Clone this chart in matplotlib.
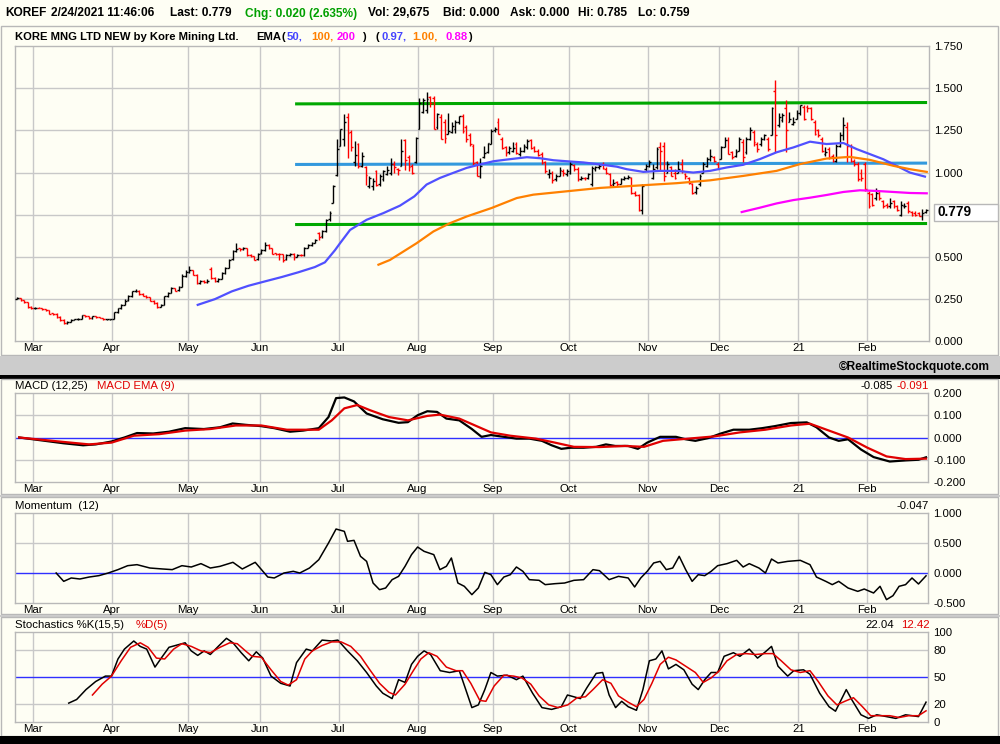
import numpy as np
import pandas as pd
import matplotlib
matplotlib.use("Agg")
import matplotlib.pyplot as plt
from matplotlib.patches import Rectangle

# ---------------- trading calendar ----------------
holidays = ["2020-04-10", "2020-05-25", "2020-07-03", "2020-09-07", "2020-11-26",
            "2020-12-25", "2021-01-01", "2021-01-18", "2021-02-15"]
dates = pd.bdate_range("2020-02-24", "2021-02-24")
dates = dates[~dates.isin(pd.to_datetime(holidays))]

# ---------------- daily OHLC ----------------
closes = [
    0.256, 0.242, 0.230, 0.206, 0.196,
    0.198, 0.198, 0.190, 0.183, 0.163, 0.163, 0.143, 0.127, 0.107, 0.117, 0.127, 0.131, 0.135, 0.153, 0.147, 0.137, 0.147, 0.143, 0.139, 0.131, 0.131, 0.131,
    0.171, 0.196, 0.216, 0.240, 0.266, 0.296, 0.300, 0.280, 0.270, 0.262, 0.240, 0.226, 0.206, 0.215, 0.266, 0.286, 0.316, 0.300, 0.320, 0.385, 0.410,
    0.425, 0.395, 0.345, 0.360, 0.350, 0.360, 0.375, 0.355, 0.370, 0.403, 0.435, 0.484, 0.534, 0.548, 0.545, 0.553, 0.514, 0.504, 0.484, 0.520,
    0.540, 0.573, 0.550, 0.520, 0.518, 0.515, 0.484, 0.510, 0.520, 0.500, 0.510, 0.510, 0.553, 0.569, 0.583, 0.603, 0.620, 0.653, 0.720, 0.762, 0.920, 1.137,
    1.256, 1.300, 1.236, 1.150, 1.107, 1.038, 1.097, 0.988, 0.968, 0.948, 0.929, 0.978, 1.008, 1.018, 1.048, 1.034, 1.014, 1.127, 1.077, 1.034, 1.000, 1.206,
    1.415, 1.430, 1.435, 1.415, 1.256, 1.345, 1.196, 1.206, 1.246, 1.276, 1.300, 1.335, 1.246, 1.196, 1.167, 1.058, 0.978, 1.038, 1.117, 1.177, 1.246,
    1.260, 1.226, 1.147, 1.117, 1.147, 1.147, 1.117, 1.130, 1.160, 1.186, 1.147, 1.130, 1.107, 1.058, 1.008, 1.000, 0.958, 0.978, 1.018, 0.998, 1.008,
    1.048, 1.020, 0.960, 0.968, 0.968, 0.990, 1.028, 1.030, 1.040, 1.028, 0.998, 0.929, 0.940, 0.930, 0.960, 0.970, 0.975, 0.880, 0.865, 0.780, 0.920, 1.040,
    1.060, 1.020, 1.140, 1.130, 0.980, 1.050, 0.980, 0.970, 1.020, 1.010, 0.980, 0.940, 0.880, 0.910, 0.980, 1.050, 1.080, 1.100, 1.070, 1.020,
    1.150, 1.190, 1.110, 1.090, 1.120, 1.200, 1.090, 1.200, 1.250, 1.180, 1.140, 1.200, 1.220, 1.140, 1.380, 1.220, 1.330, 1.340, 1.250, 1.320, 1.300, 1.350,
    1.400, 1.320, 1.380, 1.320, 1.230, 1.220, 1.130, 1.120, 1.090, 1.070, 1.160, 1.220, 1.280, 1.160, 1.070, 1.050, 0.960, 0.970, 0.900,
    0.800, 0.810, 0.880, 0.850, 0.800, 0.800, 0.820, 0.800, 0.780, 0.810, 0.800, 0.770, 0.750, 0.750, 0.745, 0.760, 0.779,
]
opens = [
    0.250, 0.256, 0.242, 0.230, 0.206,
    0.196, 0.200, 0.198, 0.190, 0.183, 0.165, 0.163, 0.143, 0.127, 0.107, 0.117, 0.127, 0.131, 0.135, 0.153, 0.147, 0.137, 0.147, 0.143, 0.139, 0.131, 0.131,
    0.135, 0.172, 0.196, 0.218, 0.242, 0.268, 0.296, 0.300, 0.282, 0.270, 0.262, 0.240, 0.226, 0.206, 0.216, 0.268, 0.288, 0.316, 0.302, 0.322, 0.388,
    0.410, 0.420, 0.395, 0.345, 0.360, 0.350, 0.430, 0.375, 0.355, 0.372, 0.405, 0.437, 0.486, 0.536, 0.550, 0.545, 0.553, 0.514, 0.504, 0.486,
    0.522, 0.542, 0.573, 0.550, 0.522, 0.518, 0.515, 0.486, 0.510, 0.520, 0.502, 0.512, 0.512, 0.555, 0.571, 0.585, 0.640, 0.622, 0.655, 0.722, 0.820, 0.985,
    1.160, 1.200, 1.330, 1.240, 1.060, 1.170, 1.040, 1.030, 0.920, 0.920, 1.010, 0.930, 0.960, 0.990, 1.000, 1.050, 1.020, 1.040, 1.190, 1.090, 1.040, 1.060,
    1.260, 1.360, 1.370, 1.450, 1.440, 1.270, 1.330, 1.300, 1.230, 1.240, 1.260, 1.300, 1.335, 1.270, 1.220, 1.160, 1.060, 0.980, 1.090, 1.120, 1.170,
    1.250, 1.300, 1.200, 1.150, 1.120, 1.130, 1.170, 1.110, 1.130, 1.150, 1.190, 1.150, 1.130, 1.110, 1.060, 0.990, 1.000, 0.960, 0.980, 1.010, 0.990,
    1.000, 1.045, 1.020, 0.960, 0.970, 0.970, 0.930, 1.020, 1.030, 1.050, 1.020, 0.990, 0.930, 0.945, 0.935, 0.960, 0.965, 0.970, 0.880, 0.865, 0.780, 1.020,
    1.040, 0.970, 1.030, 1.150, 1.160, 1.000, 1.030, 1.000, 1.000, 1.050, 0.990, 0.970, 0.930, 0.885, 0.930, 1.000, 1.040, 1.080, 1.090, 1.050,
    1.080, 1.150, 1.190, 1.120, 1.100, 1.130, 1.180, 1.120, 1.200, 1.240, 1.170, 1.170, 1.200, 1.200, 1.220, 1.486, 1.280, 1.310, 1.380, 1.300, 1.290, 1.320,
    1.350, 1.390, 1.390, 1.380, 1.300, 1.250, 1.200, 1.110, 1.140, 1.100, 1.070, 1.160, 1.220, 1.270, 1.160, 1.070, 1.050, 1.000, 1.050,
    0.880, 0.870, 0.850, 0.880, 0.830, 0.810, 0.800, 0.830, 0.800, 0.750, 0.800, 0.820, 0.765, 0.760, 0.760, 0.740, 0.765,
]
highs = [
    0.262, 0.258, 0.244, 0.232, 0.208,
    0.204, 0.202, 0.200, 0.192, 0.185, 0.168, 0.165, 0.148, 0.130, 0.120, 0.130, 0.135, 0.138, 0.156, 0.155, 0.149, 0.150, 0.149, 0.145, 0.140, 0.135, 0.133,
    0.173, 0.200, 0.222, 0.248, 0.272, 0.300, 0.310, 0.302, 0.285, 0.275, 0.265, 0.245, 0.230, 0.220, 0.270, 0.290, 0.320, 0.318, 0.325, 0.400, 0.425,
    0.445, 0.425, 0.398, 0.365, 0.362, 0.368, 0.440, 0.380, 0.375, 0.410, 0.440, 0.490, 0.540, 0.580, 0.555, 0.560, 0.555, 0.518, 0.508, 0.525,
    0.545, 0.590, 0.575, 0.552, 0.525, 0.522, 0.518, 0.515, 0.525, 0.522, 0.515, 0.515, 0.560, 0.575, 0.590, 0.608, 0.645, 0.660, 0.725, 0.770, 0.925, 1.200,
    1.260, 1.345, 1.355, 1.250, 1.187, 1.177, 1.120, 1.038, 0.978, 0.968, 1.018, 0.990, 1.018, 1.038, 1.087, 1.067, 1.028, 1.196, 1.200, 1.107, 1.050, 1.210,
    1.444, 1.444, 1.478, 1.454, 1.454, 1.355, 1.345, 1.315, 1.355, 1.300, 1.310, 1.335, 1.345, 1.280, 1.236, 1.167, 1.068, 1.087, 1.157, 1.177, 1.256,
    1.270, 1.325, 1.210, 1.160, 1.160, 1.180, 1.180, 1.150, 1.170, 1.200, 1.200, 1.160, 1.140, 1.120, 1.070, 1.020, 1.010, 0.990, 1.030, 1.020, 1.020,
    1.068, 1.050, 1.030, 0.980, 0.975, 1.000, 1.040, 1.040, 1.050, 1.060, 1.030, 1.000, 0.960, 0.950, 0.970, 0.980, 0.985, 0.975, 0.890, 0.870, 0.930, 1.050,
    1.075, 1.050, 1.150, 1.180, 1.180, 1.070, 1.040, 1.020, 1.070, 1.080, 1.000, 0.975, 0.940, 0.920, 0.990, 1.060, 1.090, 1.140, 1.100, 1.060,
    1.160, 1.210, 1.210, 1.130, 1.140, 1.210, 1.200, 1.210, 1.270, 1.250, 1.180, 1.210, 1.230, 1.210, 1.390, 1.546, 1.350, 1.350, 1.430, 1.360, 1.330, 1.370,
    1.400, 1.400, 1.400, 1.390, 1.310, 1.260, 1.210, 1.150, 1.150, 1.110, 1.170, 1.240, 1.330, 1.300, 1.170, 1.080, 1.060, 1.020, 1.060,
    0.890, 0.880, 0.910, 0.890, 0.840, 0.820, 0.850, 0.840, 0.810, 0.830, 0.820, 0.830, 0.770, 0.770, 0.765, 0.785, 0.785,
]
lows = [
    0.248, 0.238, 0.226, 0.200, 0.194,
    0.194, 0.195, 0.188, 0.180, 0.160, 0.158, 0.140, 0.122, 0.100, 0.105, 0.115, 0.125, 0.128, 0.133, 0.143, 0.134, 0.135, 0.141, 0.137, 0.129, 0.128, 0.129,
    0.133, 0.168, 0.192, 0.214, 0.240, 0.264, 0.292, 0.276, 0.266, 0.258, 0.236, 0.222, 0.196, 0.204, 0.214, 0.262, 0.284, 0.296, 0.298, 0.320, 0.380,
    0.405, 0.390, 0.340, 0.340, 0.345, 0.345, 0.370, 0.350, 0.350, 0.368, 0.400, 0.432, 0.480, 0.530, 0.538, 0.540, 0.508, 0.500, 0.480, 0.482,
    0.518, 0.538, 0.545, 0.515, 0.512, 0.480, 0.470, 0.482, 0.505, 0.480, 0.498, 0.505, 0.508, 0.550, 0.565, 0.580, 0.598, 0.615, 0.650, 0.715, 0.820, 0.980,
    1.157, 1.157, 1.087, 1.130, 1.038, 1.028, 1.030, 0.929, 0.909, 0.899, 0.919, 0.920, 0.948, 0.988, 0.988, 0.998, 0.988, 1.038, 1.018, 1.008, 0.990, 1.058,
    1.256, 1.355, 1.355, 1.390, 1.256, 1.256, 1.196, 1.177, 1.226, 1.236, 1.236, 1.290, 1.236, 1.180, 1.157, 1.038, 0.978, 0.968, 1.087, 1.117, 1.167,
    1.240, 1.226, 1.140, 1.100, 1.110, 1.120, 1.110, 1.100, 1.120, 1.140, 1.140, 1.120, 1.100, 1.050, 1.000, 0.970, 0.940, 0.950, 0.980, 0.980, 0.980,
    0.990, 1.010, 0.950, 0.955, 0.955, 0.960, 0.920, 1.010, 1.020, 1.020, 0.990, 0.920, 0.920, 0.920, 0.930, 0.955, 0.960, 0.875, 0.860, 0.772, 0.752, 1.010,
    1.030, 0.960, 1.020, 1.010, 0.950, 1.000, 0.980, 0.960, 1.000, 1.000, 0.960, 0.930, 0.875, 0.870, 0.920, 1.000, 1.030, 1.070, 1.060, 1.020,
    1.080, 1.150, 1.110, 1.080, 1.090, 1.130, 1.060, 1.110, 1.190, 1.160, 1.120, 1.160, 1.190, 1.130, 1.220, 1.120, 1.270, 1.300, 1.120, 1.300, 1.280, 1.320,
    1.340, 1.310, 1.360, 1.310, 1.220, 1.210, 1.120, 1.100, 1.080, 1.060, 1.060, 1.150, 1.190, 1.060, 1.060, 1.040, 0.950, 0.950, 0.890,
    0.790, 0.800, 0.840, 0.840, 0.790, 0.790, 0.790, 0.790, 0.770, 0.740, 0.790, 0.760, 0.745, 0.745, 0.740, 0.720, 0.759,
]

# ---------------- moving averages (trading-day index) ----------------
ema50_x = [50.3, 55.1, 59.8, 64.4, 69.0, 73.7, 78.3, 82.9, 85.7, 88.5, 89.9, 92.7, 97.3, 102.0, 106.6, 110.6,
           114.0, 117.7, 121.4, 125.2, 128.9, 132.6, 136.3, 141.9, 145.6, 149.3, 153.0, 157.6, 162.3, 166.9,
           169.7, 174.3, 179.0, 183.6, 188.2, 192.9, 197.5, 202.1, 206.8, 211.4, 216.1, 220.7, 225.3, 230.0,
           233.7, 237.4, 241.1, 244.8, 248.5, 252.7]
ema50_y = [0.216, 0.250, 0.296, 0.329, 0.355, 0.381, 0.409, 0.440, 0.468, 0.540, 0.581, 0.660, 0.720, 0.760,
           0.804, 0.859, 0.929, 0.968, 0.998, 1.028, 1.048, 1.067, 1.077, 1.091, 1.085, 1.073, 1.067, 1.060,
           1.048, 1.035, 1.020, 1.004, 1.010, 1.010, 1.000, 1.010, 1.030, 1.046, 1.080, 1.120, 1.149, 1.183,
           1.169, 1.175, 1.139, 1.109, 1.079, 1.040, 1.000, 0.976]
ema100_x = [100.6, 103.8, 111.2, 115.9, 120.5, 125.2, 132.1, 139.1, 143.7, 153.0, 162.3, 166.9, 174.3,
            183.6, 192.9, 202.1, 211.4, 217.9, 225.3, 231.8, 237.4, 243.9, 248.5, 253.2]
ema100_y = [0.454, 0.482, 0.581, 0.651, 0.700, 0.740, 0.790, 0.849, 0.869, 0.889, 0.909, 0.915, 0.925,
            0.937, 0.954, 0.980, 1.010, 1.050, 1.083, 1.093, 1.075, 1.040, 1.020, 1.004]
ema200_x = [201.7, 206.8, 211.4, 216.1, 220.7, 225.3, 230.0, 234.6, 239.2, 243.9, 248.5, 253.2]
ema200_y = [0.766, 0.792, 0.817, 0.837, 0.851, 0.867, 0.885, 0.895, 0.891, 0.885, 0.879, 0.877]

# trend lines: (start index, end index, start value, end value)
resist_line = (77.4, 253.3, 1.407, 1.415)
mid_line = (77.4, 253.3, 1.048, 1.056)
support_line = (77.4, 253.3, 0.692, 0.698)

# ---------------- MACD ----------------
macd_x = [0.6, 5.9, 13.0, 18.4, 21.9, 26.3, 29.9, 33.4, 37.9, 42.3, 46.8, 52.0, 56.5, 60.0, 63.6, 68.0,
          71.6, 76.0, 79.6, 84.0, 86.7, 88.8, 91.1, 93.8, 97.3, 101.8, 106.2, 108.8, 111.5, 114.2, 116.9,
          119.5, 123.1, 126.6, 129.3, 131.9, 135.5, 139.0, 142.6, 146.1, 148.8, 151.5, 154.1, 157.7, 161.2,
          163.9, 166.5, 170.1, 172.8, 175.4, 179.0, 183.4, 186.1, 188.8, 192.3, 195.9, 199.4, 203.8, 207.4,
          210.9, 215.4, 219.8, 222.5, 226.0, 228.7, 231.3, 234.9, 238.4, 242.9, 247.3, 250.9, 253.0]
macd_y = [0.0, -0.011, -0.026, -0.035, -0.031, -0.018, 0.0, 0.020, 0.018, 0.026, 0.042, 0.038, 0.046, 0.063,
          0.057, 0.051, 0.042, 0.026, 0.031, 0.042, 0.092, 0.177, 0.180, 0.162, 0.108, 0.082, 0.066, 0.069,
          0.100, 0.118, 0.115, 0.085, 0.077, 0.038, 0.003, 0.011, 0.003, -0.005, -0.005, -0.015, -0.035,
          -0.051, -0.046, -0.046, -0.042, -0.031, -0.038, -0.038, -0.051, -0.023, 0.003, 0.003, -0.008,
          -0.015, -0.003, 0.018, 0.035, 0.035, 0.042, 0.051, 0.065, 0.068, 0.046, 0.0, -0.015, -0.008,
          -0.054, -0.088, -0.108, -0.103, -0.100, -0.089]
signal_x = [0.6, 13.0, 20.1, 26.3, 32.5, 39.6, 46.8, 53.8, 60.9, 68.0, 75.1, 84.0, 87.6, 91.1, 94.7, 98.2,
            103.5, 108.8, 114.2, 117.7, 123.1, 127.5, 131.9, 137.3, 144.4, 149.7, 155.0, 162.1, 169.2, 174.5,
            179.8, 186.9, 194.1, 201.2, 208.3, 215.4, 220.7, 226.0, 231.3, 236.7, 242.0, 247.3, 253.0]
signal_y = [0.0, -0.020, -0.031, -0.023, 0.008, 0.015, 0.031, 0.038, 0.054, 0.054, 0.035, 0.035, 0.077,
            0.131, 0.146, 0.123, 0.092, 0.077, 0.097, 0.103, 0.085, 0.054, 0.023, 0.008, -0.005, -0.023,
            -0.042, -0.043, -0.038, -0.042, -0.015, -0.005, 0.005, 0.023, 0.035, 0.054, 0.062, 0.031, 0.0,
            -0.046, -0.085, -0.097, -0.095]

# ---------------- Momentum ----------------
mom_x = [10.9, 13.0, 15.1, 17.5, 20.1, 22.8, 25.4, 28.1, 30.8, 33.4, 37.0, 40.5, 43.2, 45.9, 48.5, 51.2,
         53.8, 56.5, 60.1, 62.7, 66.3, 69.8, 71.6, 74.3, 76.9, 78.7, 81.4, 84.0, 86.7, 88.8, 91.1, 92.0,
         93.8, 95.6, 97.3, 99.1, 100.9, 102.6, 104.4, 106.2, 108.0, 109.8, 111.5, 113.3, 116.0, 117.7,
         119.5, 120.9, 122.7, 124.5, 126.6, 128.4, 130.2, 131.9, 133.7, 135.5, 137.3, 139.0, 140.8, 142.6,
         145.3, 147.0, 149.7, 152.4, 155.0, 157.7, 160.3, 162.1, 164.8, 167.4, 170.1, 171.9, 173.6, 175.4,
         177.2, 179.0, 180.7, 182.5, 184.3, 186.1, 187.9, 189.6, 191.4, 193.2, 195.0, 197.6, 200.3, 202.1,
         203.8, 206.5, 208.3, 210.0, 211.8, 214.5, 218.0, 220.7, 222.5, 225.1, 226.9, 228.7, 231.3, 234.0,
         235.8, 238.4, 240.2, 242.0, 243.8, 245.5, 247.3, 249.1, 250.9, 253.0]
mom_y = [0.0, -0.139, -0.083, -0.100, -0.067, -0.044, 0.0, 0.056, 0.122, 0.139, 0.083, 0.067, 0.056, 0.122,
         0.100, 0.156, 0.083, 0.111, 0.178, 0.067, 0.178, -0.067, -0.083, 0.0, 0.028, 0.0, 0.083, 0.222,
         0.500, 0.733, 0.694, 0.528, 0.544, 0.278, 0.194, -0.167, -0.278, -0.250, -0.111, -0.056, 0.111,
         0.306, 0.433, 0.361, 0.306, 0.056, 0.111, 0.250, -0.167, -0.222, -0.361, -0.250, 0.011, -0.028,
         -0.194, -0.067, -0.028, 0.100, 0.028, -0.111, -0.122, -0.194, -0.178, -0.167, -0.122, -0.111,
         0.056, 0.039, -0.111, -0.056, -0.083, -0.233, -0.083, 0.028, 0.167, 0.194, 0.056, 0.083, 0.278,
         0.056, -0.139, -0.028, -0.044, 0.028, 0.122, 0.156, 0.211, 0.100, 0.156, 0.083, 0.0, 0.233, 0.167,
         0.194, 0.211, 0.139, -0.067, -0.139, -0.194, -0.139, -0.250, -0.306, -0.267, -0.333, -0.222,
         -0.444, -0.378, -0.222, -0.194, -0.083, -0.183, -0.047]

# ---------------- Stochastics ----------------
k_x = [14.4, 16.6, 19.2, 21.9, 24.6, 26.3, 28.1, 29.9, 32.5, 34.3, 36.1, 38.4, 40.5, 42.3, 45.0, 46.8, 48.5,
       50.3, 52.1, 53.8, 56.0, 58.3, 60.1, 62.4, 64.5, 66.6, 68.4, 70.7, 73.4, 76.0, 77.8, 80.5, 82.2, 84.9,
       87.6, 89.3, 92.0, 94.7, 97.3, 100.0, 101.8, 104.4, 106.2, 108.0, 109.8, 111.5, 113.3, 115.1, 117.8,
       120.4, 123.1, 124.9, 126.6, 128.4, 130.2, 131.9, 133.7, 136.4, 139.0, 140.8, 143.5, 146.1, 148.8,
       151.5, 153.2, 155.0, 156.8, 158.6, 161.2, 163.0, 164.8, 166.6, 168.3, 170.1, 172.4, 174.2, 176.0,
       177.8, 179.5, 181.3, 183.4, 185.6, 187.9, 189.6, 191.4, 193.2, 195.0, 196.8, 199.4, 201.2, 203.8,
       206.1, 208.3, 210.0, 211.8, 214.5, 216.2, 218.9, 220.7, 223.4, 226.0, 227.8, 230.8, 232.3, 234.9,
       237.0, 239.3, 242.0, 244.6, 247.3, 249.1, 250.9, 253.0]
k_y = [21, 25, 36, 45, 51, 51, 70, 81, 90, 84, 81, 61, 73, 83, 86, 88, 79, 74, 79, 75, 84, 93, 88, 77, 68,
       78, 71, 51, 43, 40, 66, 81, 79, 91, 90, 91, 79, 68, 55, 40, 32, 26, 47, 44, 64, 73, 79, 75, 57, 55,
       57, 36, 16, 19, 36, 55, 51, 52, 47, 51, 32, 16, 14, 17, 30, 28, 26, 38, 54, 55, 30, 16, 23, 17, 13,
       36, 68, 70, 79, 59, 64, 58, 42, 36, 47, 55, 55, 73, 77, 73, 81, 71, 78, 84, 62, 51, 57, 58, 53, 32,
       17, 12, 36, 25, 8, 4, 8, 6, 4, 8, 7, 6, 22.04]
d_x = [21.0, 23.7, 26.3, 29.0, 31.6, 34.3, 36.5, 38.8, 41.1, 43.6, 45.9, 48.5, 51.2, 53.8, 56.5, 59.2, 61.3,
       63.6, 65.4, 68.0, 70.7, 73.4, 75.5, 77.8, 80.1, 82.2, 84.9, 87.6, 90.2, 92.9, 95.6, 98.2, 100.9,
       103.5, 105.3, 108.0, 110.3, 112.4, 114.6, 116.9, 119.5, 122.2, 124.0, 126.3, 128.8, 130.5, 132.8,
       135.5, 138.2, 140.5, 143.0, 145.3, 148.0, 150.6, 153.3, 155.9, 158.2, 160.3, 163.0, 165.3, 167.4,
       170.1, 172.4, 174.5, 176.7, 179.0, 181.3, 183.4, 186.1, 188.8, 191.0, 193.2, 195.5, 197.6, 200.3,
       202.9, 205.6, 208.3, 210.4, 212.7, 215.4, 218.0, 220.7, 223.0, 225.7, 228.2, 230.4, 232.8, 235.3,
       237.6, 240.2, 242.9, 245.5, 248.2, 250.9, 253.0]
d_y = [30, 42, 51, 68, 83, 88, 83, 71, 70, 81, 87, 84, 79, 77, 83, 88, 87, 79, 73, 72, 58, 45, 41, 47, 70,
       79, 85, 89, 89, 84, 73, 58, 43, 33, 30, 42, 57, 70, 77, 73, 61, 57, 57, 43, 24, 23, 40, 52, 51, 49,
       42, 29, 19, 16, 19, 27, 28, 36, 47, 43, 29, 22, 17, 25, 43, 64, 72, 69, 62, 55, 44, 49, 57, 68, 75,
       76, 75, 76, 76, 68, 58, 55, 57, 45, 29, 19, 23, 27, 17, 7, 7, 7, 5, 7, 7, 12.42]

month_labels = {1: "21", 2: "Feb", 3: "Mar", 4: "Apr", 5: "May", 6: "Jun", 7: "Jul",
                8: "Aug", 9: "Sep", 10: "Oct", 11: "Nov", 12: "Dec"}

# ---------------- figure ----------------
CREAM = "#FEFEF4"
GRID = "#C8C8C8"
BORDER = "#B8B8B8"
FONT = "Liberation Sans"
plt.rcParams["font.family"] = [FONT, "DejaVu Sans"]

W, H = 1000, 744
fig = plt.figure(figsize=(10, 7.44), dpi=100)
fig.patch.set_facecolor(CREAM)

bg = fig.add_axes([0, 0, 1, 1])
bg.set_xlim(0, W)
bg.set_ylim(H, 0)
bg.axis("off")


def rect(x0, y0, x1, y1, fc, ec="none", lw=0.0, z=1):
    bg.add_patch(Rectangle((x0, y0), x1 - x0, y1 - y0, facecolor=fc, edgecolor=ec, linewidth=lw, zorder=z))


# panel boxes / separators
rect(1, 26, 998, 355, CREAM, BORDER, 1.0)
rect(0, 355.5, W, 375, "#CCCCCC")
rect(0, 375, W, 379, "#000000")
rect(1, 379, 998, 494, CREAM, BORDER, 1.0)
rect(0, 494.5, W, 497, "#CCCCCC")
rect(1, 497, 998, 614, CREAM, BORDER, 1.0)
rect(0, 614.5, W, 617, "#CCCCCC")
rect(1, 617, 998, 736, CREAM, BORDER, 1.0)
rect(0, 736, W, H, "#000000")

# header
hdr = [("KOREF", 5, "black"), ("2/24/2021 11:46:06", 51, "black"), ("Last: 0.779", 170, "black"),
       ("Chg: 0.020 (2.635%)", 245, "#00A000"), ("Vol: 29,675", 368, "black"), ("Bid: 0.000", 443, "black"),
       ("Ask: 0.000", 510, "black"), ("Hi: 0.785", 578, "black"), ("Lo: 0.759", 638, "black")]
for txt, x, c in hdr:
    bg.text(x, 13.5, txt, color=c, fontsize=8.6, fontweight="bold", va="center", ha="left")

ttl = [("KORE MNG LTD NEW by Kore Mining Ltd.", 15, "black"), ("EMA", 256, "black"), ("(", 282, "black"),
       ("50,", 287, "#4444FF"), ("100,", 311, "#FF8000"), ("200", 337, "#FF00FF"), (")", 362, "black"),
       ("(", 376, "black"), ("0.97,", 381, "#4444FF"), ("1.00,", 412, "#FF8000"), ("0.88", 446, "#FF00FF"),
       (")", 468, "black")]
for txt, x, c in ttl:
    bg.text(x, 36.5, txt, color=c, fontsize=8.1, fontweight="bold", va="center", ha="left")

bg.text(990, 367, "\u00a9RealtimeStockquote.com", fontsize=8.6, fontweight="bold", ha="right", va="center")

# indicator titles
bg.text(15, 386, "MACD (12,25)", fontsize=8.2, ha="left", va="center")
bg.text(97, 386, "MACD EMA (9)", fontsize=8.2, ha="left", va="center", color="#E00000")
bg.text(893, 386, "-0.085", fontsize=8.2, ha="right", va="center")
bg.text(929, 386, "-0.091", fontsize=8.2, ha="right", va="center", color="#E00000")
bg.text(15, 506, "Momentum  (12)", fontsize=8.2, ha="left", va="center")
bg.text(929, 506, "-0.047", fontsize=8.2, ha="right", va="center")
bg.text(15, 625, "Stochastics %K(15,5)", fontsize=8.2, ha="left", va="center")
bg.text(136, 625, "%D(5)", fontsize=8.2, ha="left", va="center", color="#E00000")
bg.text(894, 625, "22.04", fontsize=8.2, ha="right", va="center")
bg.text(930, 625, "12.42", fontsize=8.2, ha="right", va="center", color="#E00000")

# ---------------- helpers ----------------
n = min(len(dates), len(closes), len(opens), len(highs), len(lows))
idx = np.arange(n)
month_idx = [i for i in range(1, len(dates)) if dates[i].month != dates[i - 1].month]
month_pos = [i - 0.5 for i in month_idx]
month_txt = [month_labels[dates[i].month] for i in month_idx]

PX_PER_DAY = 3.593
X0_PX = 17.0


def pax(x0, y0, x1, y1):
    ax = fig.add_axes([x0 / W, 1 - y1 / H, (x1 - x0) / W, (y1 - y0) / H])
    ax.set_facecolor(CREAM)
    ax.set_xlim(-(X0_PX - x0) / PX_PER_DAY, (x1 - X0_PX) / PX_PER_DAY)
    for s in ax.spines.values():
        s.set_color(BORDER)
        s.set_linewidth(1.0)
    ax.yaxis.tick_right()
    ax.tick_params(length=0, labelsize=8.2, pad=4)
    ax.tick_params(axis="x", pad=1.5)
    ax.set_xticks(month_pos)
    ax.set_xticklabels(month_txt)
    for p in month_pos:
        ax.axvline(p, color=GRID, lw=1.0, zorder=0)
    return ax


# ---------------- main price panel ----------------
ax = pax(15, 46, 929, 341.3)
ax.set_ylim(0, 1.75)
yt = [0, 0.25, 0.5, 0.75, 1.0, 1.25, 1.5, 1.75]
ax.set_yticks(yt)
# the 0.750 label sits under the last-price box in the reference
ax.set_yticklabels(["" if v == 0.75 else "%.3f" % v for v in yt])
for v in yt[1:-1]:
    ax.axhline(v, color=GRID, lw=1.0, zorder=0)

o = np.array(opens[:n]); h = np.array(highs[:n]); l = np.array(lows[:n]); c = np.array(closes[:n])
cols = np.where(c < o, "#FF0000", "#000000")
ax.vlines(idx, l, h, colors=cols, lw=1.0, zorder=3)
ax.hlines(o, idx - 0.5, idx, colors=cols, lw=1.0, zorder=3)
ax.hlines(c, idx, idx + 0.5, colors=cols, lw=1.0, zorder=3)

ax.plot(ema50_x, ema50_y, color="#5050FF", lw=1.6, zorder=4)
ax.plot(ema100_x, ema100_y, color="#FF8000", lw=1.6, zorder=4)
ax.plot(ema200_x, ema200_y, color="#FF00FF", lw=1.6, zorder=4)
for (xa, xb, ya, yb), col, lw in [(resist_line, "#00A800", 2.2), (support_line, "#00A800", 2.2),
                                  (mid_line, "#3399DD", 2.2)]:
    ax.plot([xa, xb], [ya, yb], color=col, lw=lw, zorder=2, solid_capstyle="butt")

# last price box (drawn on a top overlay so it covers the axis area)
top = fig.add_axes([0, 0, 1, 1], facecolor="none")
top.set_xlim(0, W)
top.set_ylim(H, 0)
top.axis("off")
top.add_patch(Rectangle((934, 204), 64, 17, facecolor="white", edgecolor=BORDER, linewidth=1.0))
top.text(937, 212.5, "0.779", fontsize=9.8, fontweight="bold", ha="left", va="center")

# ---------------- MACD panel ----------------
am = pax(15, 393, 928, 482)
am.set_ylim(-0.2, 0.2)
mt = [-0.2, -0.1, 0.0, 0.1, 0.2]
am.set_yticks(mt)
am.set_yticklabels(["%.3f" % v for v in mt])
for v in [-0.1, 0.1]:
    am.axhline(v, color=GRID, lw=1.0, zorder=0)
am.axhline(0, color="#3030FF", lw=1.0, zorder=1)
am.plot(macd_x, macd_y, color="black", lw=1.6, zorder=3)
am.plot(signal_x, signal_y, color="#E00000", lw=1.6, zorder=4)

# ---------------- Momentum panel ----------------
amo = pax(15, 513, 928, 603)
amo.set_ylim(-0.5, 1.0)
mot = [-0.5, 0.0, 0.5, 1.0]
amo.set_yticks(mot)
amo.set_yticklabels(["%.3f" % v for v in mot])
amo.axhline(0.5, color=GRID, lw=1.0, zorder=0)
amo.axhline(0.0, color="#3030FF", lw=1.0, zorder=1)
amo.plot(mom_x, mom_y, color="black", lw=1.1, zorder=3)

# ---------------- Stochastics panel ----------------
ast = pax(15, 632, 928, 722)
ast.set_ylim(0, 100)
st = [0, 20, 50, 80, 100]
ast.set_yticks(st)
ast.set_yticklabels([str(v) for v in st])
for v in [20, 80]:
    ast.axhline(v, color=GRID, lw=1.0, zorder=0)
ast.axhline(50, color="#3030FF", lw=1.0, zorder=1)
ast.plot(k_x, k_y, color="black", lw=1.1, zorder=3)
ast.plot(d_x, d_y, color="#E00000", lw=1.1, zorder=4)

fig.savefig("out.png", dpi=100, facecolor=fig.get_facecolor())
